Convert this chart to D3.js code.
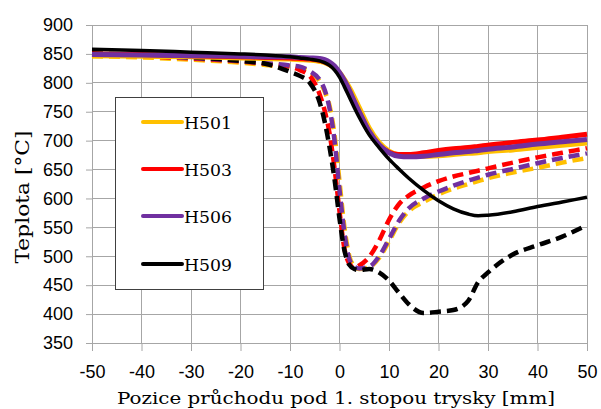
<!DOCTYPE html>
<html><head><meta charset="utf-8">
<script src="https://cdn.jsdelivr.net/npm/d3@7"></script>
<style>body{margin:0;background:#fff}</style>
</head><body>
<svg id="c" width="601" height="409"></svg>
<script>
const xPos = [-50,-40,-30,-20,-15,-10,-8,-6,-4,-3,-2,-1,0,1,2,3,4,6,8,10,12,14,17,20,23,26,28,30,35,40,45,50];
const seriesNames = ["H501","H503","H506","H509"];
const seriesColors = ["#FFC000","#FF0000","#7030A0","#000000"];
const solidH501 = [847,846,845,843,842,841,840,839,837,835,831,825,818,806,792,775,757,722,697,682,675,673,673,674,676,678,679,681,684,688,692,696];
const solidH503 = [850,849,847,845,844,843,842,841,839,836,832,826,816,802,785,766,748,714,692,680,676,676,679,683,686,688,690,692,697,701,706,711];
const solidH506 = [849,848,847,846,845,845,844,843,842,840,836,829,818,804,787,768,750,716,693,679,673,672,673,676,679,681,683,685,689,694,698,702];
const solidH509 = [858,856,853,850,848,845,843,841,838,835,830,822,810,793,775,757,740,710,688,668,651,635,614,596,582,573,570,571,577,586,594,602];
const dashH501 = [846,844,840,835,831,828,826,818,802,785,760,710,630,550,500,483,478,481,497,526,557,578,594,607,617,625,630,635,645,653,662,670];
const dashH503 = [848,846,842,837,833,828,822,812,780,752,712,652,578,513,487,480,484,499,527,563,590,605,619,630,638,644,648,652,662,671,679,687];
const dashH506 = [849,847,843,838,834,830,828,820,805,788,755,700,615,540,495,482,479,482,500,530,561,583,600,612,622,631,636,641,651,661,670,678];
const dashH509 = [851,848,844,838,833,819,812,800,766,733,688,633,565,510,485,478,476,478,472,458,437,417,402,404,407,423,455,472,503,519,534,554];
const xTicks = [-50,-40,-30,-20,-10,0,10,20,30,40,50];
const yTicks = [350,400,450,500,550,600,650,700,750,800,850,900];

const svg = d3.select("#c");
const x = d3.scaleLinear().domain([-50,50]).range([92,587]);
const y = d3.scaleLinear().domain([350,900]).range([343,25]);
const grid = "#a6a6a6";

// grid
svg.append("g").selectAll("line").data(yTicks).join("line")
  .attr("x1",x(-50)).attr("x2",x(50)).attr("y1",d=>y(d)).attr("y2",d=>y(d))
  .attr("stroke",grid).attr("stroke-width",1).attr("shape-rendering","crispEdges");
svg.append("g").selectAll("line").data(xTicks).join("line")
  .attr("x1",d=>x(d)).attr("x2",d=>x(d)).attr("y1",y(350)).attr("y2",y(900))
  .attr("stroke",grid).attr("stroke-width",1).attr("shape-rendering","crispEdges");

// axes
const fmt = d => String(d);
const xa = svg.append("g").attr("transform",`translate(0,${y(350)})`)
  .call(d3.axisBottom(x).tickValues(xTicks).tickFormat(fmt).tickSize(8).tickPadding(14).tickSizeOuter(0));
const ya = svg.append("g").attr("transform",`translate(${x(-50)},0)`)
  .call(d3.axisLeft(y).tickValues(yTicks).tickFormat(fmt).tickSize(6).tickPadding(13).tickSizeOuter(0));
[xa,ya].forEach(a=>{
  a.select(".domain").attr("stroke",grid);
  a.selectAll(".tick line").attr("stroke",grid);
  a.selectAll("text").attr("font-family","Liberation Sans, Arial, sans-serif").attr("font-size",18).attr("fill","#000");
});

// lines
const solids = [solidH501,solidH503,solidH506,solidH509];
const dashes = [dashH501,dashH503,dashH506,dashH509];
const line = d3.line().x((d,i)=>x(xPos[i])).y(d=>y(d)).curve(d3.curveMonotoneX);
dashes.forEach((s,i)=>{
  svg.append("path").attr("d",line(s)).attr("fill","none")
    .attr("stroke",seriesColors[i]).attr("stroke-width",4.5).attr("stroke-dasharray","11,6");
});
solids.forEach((s,i)=>{
  svg.append("path").attr("d",line(s)).attr("fill","none")
    .attr("stroke",seriesColors[i]).attr("stroke-width",i===3?3.5:5).attr("stroke-linejoin","round");
});

// legend
const lg = svg.append("g");
lg.append("rect").attr("x",115.5).attr("y",97.5).attr("width",148).attr("height",192)
  .attr("fill","#fff").attr("stroke","#404040").attr("stroke-width",1);
const rowY = [122,169,216,264];
seriesNames.forEach((n,i)=>{
  lg.append("line").attr("x1",143).attr("x2",182).attr("y1",rowY[i]).attr("y2",rowY[i])
    .attr("stroke",seriesColors[i]).attr("stroke-width",4).attr("stroke-linecap","round");
  lg.append("text").attr("x",184).attr("y",rowY[i]+6.5).text(n)
    .attr("font-family","DejaVu Serif, serif").attr("font-size",17).attr("fill","#000")
    .attr("textLength",48).attr("lengthAdjust","spacingAndGlyphs");
});

// titles
svg.append("text").attr("x",336).attr("y",404).attr("text-anchor","middle")
  .attr("font-family","DejaVu Serif, serif").attr("font-size",17).attr("fill","#000")
  .attr("textLength",438).attr("lengthAdjust","spacingAndGlyphs")
  .text("Pozice průchodu pod 1. stopou trysky [mm]");
svg.append("text").attr("transform","translate(29,197) rotate(-90)").attr("text-anchor","middle")
  .attr("font-family","DejaVu Serif, serif").attr("font-size",18).attr("fill","#000")
  .attr("textLength",133).attr("lengthAdjust","spacingAndGlyphs")
  .text("Teplota [°C]");
</script>
</body></html>
